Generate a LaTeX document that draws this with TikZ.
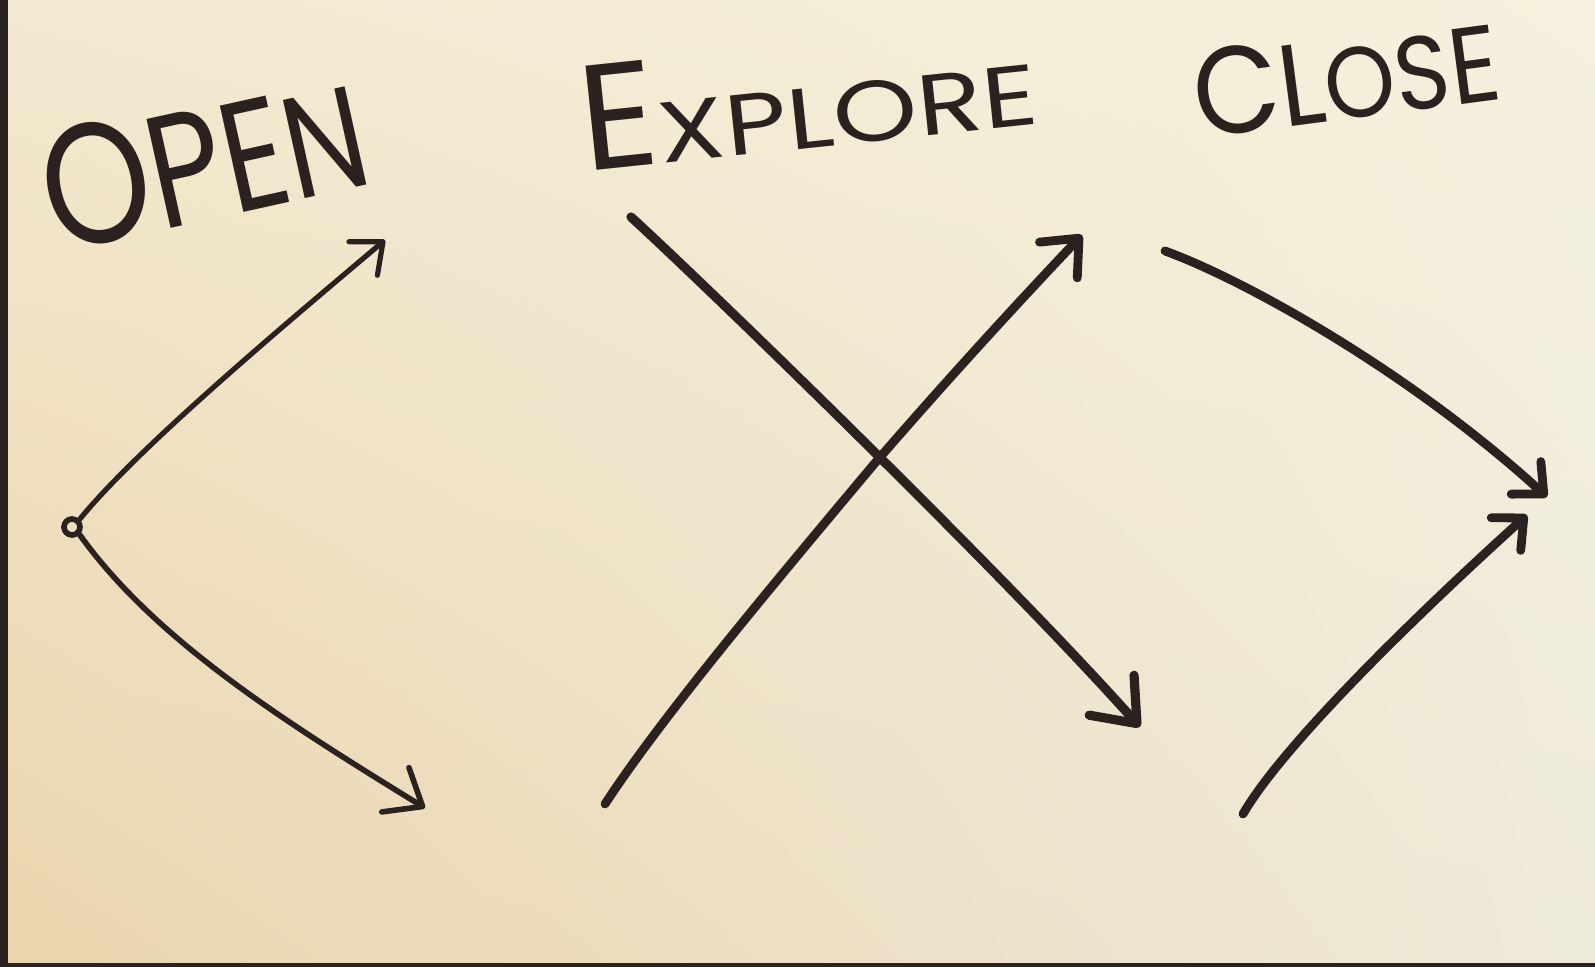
\documentclass[tikz,border=0pt]{standalone}
\usepackage{fontspec}
\newfontfamily\hand{Poppins}
\usetikzlibrary{arrows.meta,shadings}
\definecolor{ink}{HTML}{2B211F}
\definecolor{paperUL}{HTML}{F3E9CF}
\definecolor{paperUR}{HTML}{F5F1DE}
\definecolor{paperLL}{HTML}{EBD4AD}
\definecolor{paperLR}{HTML}{EEEADA}
\definecolor{edge}{HTML}{2A2320}
\newcommand{\fsz}[1]{\fontsize{#1}{#1}\selectfont}
\tikzset{
  label/.style={font=\hand, text=ink, inner sep=0pt},
  pen/.style={draw=ink, line cap=round, line join=round},
  thinarrow/.style={pen, line width=2.6pt,
    -{Straight Barb[length=13pt, width=22pt, round]}},
  thinarrowbig/.style={pen, line width=2.8pt,
    -{Straight Barb[length=16pt, width=26pt, round]}},
  thickarrow/.style={pen, line width=4.4pt,
    -{Straight Barb[length=15pt, width=26pt, round]}},
  thickarrowbig/.style={pen, line width=4.6pt,
    -{Straight Barb[length=19pt, width=30pt, round]}},
  thickarrowsmall/.style={pen, line width=4.4pt,
    -{Straight Barb[length=12pt, width=22pt, round]}},
  origin/.style={circle, draw=ink, line width=2.8pt, minimum size=8pt, inner sep=0pt}
}
\begin{document}
\begin{tikzpicture}[x=0.5pt, y=-0.5pt]
\useasboundingbox (0,0) rectangle (1595,967);
% paper
\shade[upper left=paperUL, upper right=paperUR, lower left=paperLL, lower right=paperLR]
  (0,0) rectangle (1595,967);
% dark edges of the photo
\fill[edge] (0,0) rectangle (8,967);
\fill[edge] (0,963) rectangle (1595,967);

% labels
\node[label, anchor=base west, rotate=12.5] (open) at (56,254)
  {\scalebox{0.8}[1]{\fsz{86}O\fsz{80}P\fsz{78}E\fsz{72}N}};
\node[label, anchor=base west, rotate=6] (explore) at (585,172)
  {\fsz{75}E\scalebox{1.25}[1]{\fsz{43}XPLORE}};
\node[label, anchor=base west, rotate=7.5] (close) at (1199,139)
  {\scalebox{0.9}[1]{\fsz{62}C\fsz{58}L\fsz{50}O\fsz{52}S\fsz{54}E}};

% start and end points
\node[origin] (o) at (72,527) {};
\coordinate (a1e) at (385,240);
\coordinate (a2e) at (425,808);
\coordinate (a3s) at (631,217);
\coordinate (a3e) at (1140,727);
\coordinate (a4s) at (605,804);
\coordinate (a4e) at (1082,235);
\coordinate (a5s) at (1165,251);
\coordinate (a5e) at (1547,497);
\coordinate (a6s) at (1243,814);
\coordinate (a6e) at (1527,515);

% open: diverging arrows
\draw[thinarrow] (o.north east) .. controls (140,445) and (300,312) .. (a1e);
\draw[thinarrowbig] (o.south east) .. controls (155,640) and (285,722) .. (a2e);
% explore: crossing arrows
\draw[thickarrowbig] (a3s) .. controls (700,280) and (1000,570) .. (a3e);
\draw[thickarrow] (a4s) .. controls (660,720) and (760,600) .. (875,463)
  .. controls (960,365) and (1030,290) .. (a4e);
% close: converging arrows
\draw[thickarrowsmall] (a5s) .. controls (1245,280) and (1410,372) .. (a5e);
\draw[thickarrowsmall] (a6s) .. controls (1280,750) and (1400,630) .. (a6e);
\end{tikzpicture}
\end{document}
